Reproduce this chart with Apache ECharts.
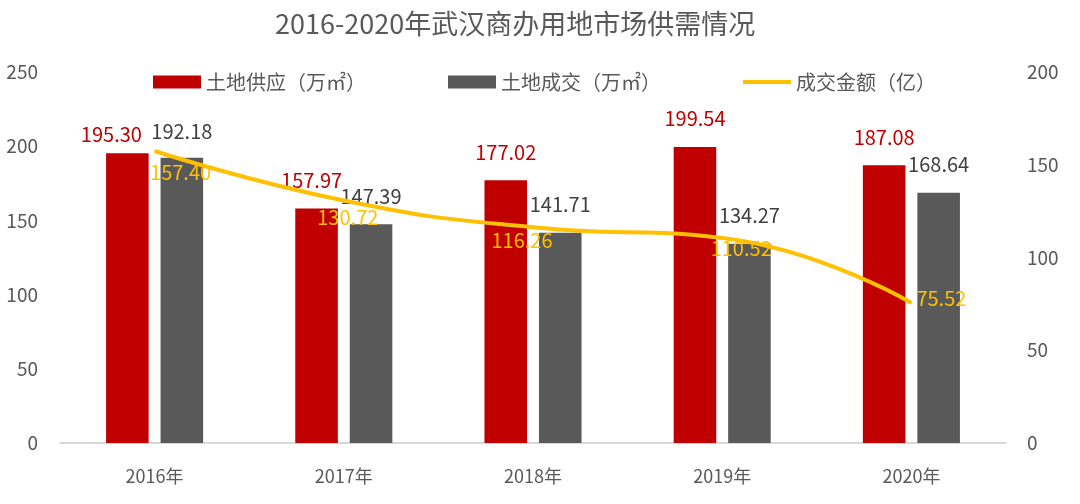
<!DOCTYPE html>
<html>
<head>
<meta charset="utf-8">
<script src="https://cdn.jsdelivr.net/npm/echarts@6/dist/echarts.min.js"></script>
<style>html,body{margin:0;padding:0;background:#fff}#c{width:1080px;height:504px}</style>
</head>
<body>
<div id="c"></div>
<script>
const categories = ['2016年', '2017年', '2018年', '2019年', '2020年'];
const supply = [195.30, 157.97, 177.02, 199.54, 187.08];
const deal = [192.18, 147.39, 141.71, 134.27, 168.64];
const amount = [157.40, 130.72, 116.26, 110.52, 75.52];
const leftTicks = [0, 250, 50];   // min, max, interval
const rightTicks = [0, 200, 50];

const FONT = '"Noto Sans CJK SC", "Noto Sans", sans-serif';
const supplyOffsets = [[-16, 9], [-5, 0], [0, 0], [0, 0], [0, 0]];
const dealOffsets = [[0, 2], [0, 0], [0, 0], [0, 0], [0, 0]];
const amountOffsets = [[26, 21], [4, 17], [-11, 13], [19, 10], [30, -5]];

const fmt = p => Number(p.value).toFixed(2);

const chart = echarts.init(document.getElementById('c'));
chart.setOption({
  animation: false,
  textStyle: { fontFamily: FONT },
  title: {
    text: '2016-2020年武汉商办用地市场供需情况',
    left: 270, top: 5,
    textStyle: { fontFamily: FONT, fontSize: 27, fontWeight: 'normal', color: '#595959' }
  },
  legend: {
    top: 72, left: 153, padding: 0,
    itemWidth: 48, itemHeight: 13, itemGap: 82,
    textStyle: { fontFamily: FONT, fontSize: 20, color: '#595959' },
    data: [
      { name: '土地供应（万㎡）', icon: 'rect' },
      { name: '土地成交（万㎡）', icon: 'rect' },
      { name: '成交金额（亿）', icon: 'path://M0,0H48V4H0Z' }
    ]
  },
  grid: { left: 60, right: 74, top: 72, bottom: 61, containLabel: false },
  xAxis: {
    type: 'category', data: categories,
    axisLine: { lineStyle: { color: '#D9D9D9', width: 2 } },
    axisTick: { show: false },
    axisLabel: { fontFamily: FONT, fontSize: 18, color: '#595959', margin: 24 }
  },
  yAxis: [
    {
      type: 'value', min: leftTicks[0], max: leftTicks[1], interval: leftTicks[2],
      splitLine: { show: false }, axisLine: { show: false }, axisTick: { show: false },
      axisLabel: { fontFamily: FONT, fontSize: 19, color: '#595959', margin: 22 }
    },
    {
      type: 'value', min: rightTicks[0], max: rightTicks[1], interval: rightTicks[2],
      splitLine: { show: false }, axisLine: { show: false }, axisTick: { show: false },
      axisLabel: { fontFamily: FONT, fontSize: 19, color: '#595959', margin: 21 }
    }
  ],
  series: [
    {
      name: '土地供应（万㎡）', type: 'bar', yAxisIndex: 0,
      barWidth: '22.5%', barGap: '28%',
      itemStyle: { color: '#C00000' },
      data: supply.map((v, i) => ({ value: v, label: { offset: supplyOffsets[i] } })),
      label: { show: true, position: 'top', distance: 18, formatter: fmt,
        fontFamily: FONT, fontSize: 20, color: '#C00000' }
    },
    {
      name: '土地成交（万㎡）', type: 'bar', yAxisIndex: 0,
      barWidth: '22.5%', barGap: '28%',
      itemStyle: { color: '#595959' },
      data: deal.map((v, i) => ({ value: v, label: { offset: dealOffsets[i] } })),
      label: { show: true, position: 'top', distance: 18, formatter: fmt,
        fontFamily: FONT, fontSize: 20, color: '#404040' }
    },
    {
      name: '成交金额（亿）', type: 'line', yAxisIndex: 1, smooth: true,
      symbol: 'circle', symbolSize: 1,
      lineStyle: { color: '#FFC000', width: 4 },
      itemStyle: { color: '#FFC000' },
      data: amount.map((v, i) => ({ value: v, label: { offset: amountOffsets[i] } })),
      label: { show: true, position: 'inside', formatter: fmt,
        fontFamily: FONT, fontSize: 20, color: '#FFC000' }
    }
  ]
});
</script>
</body>
</html>
